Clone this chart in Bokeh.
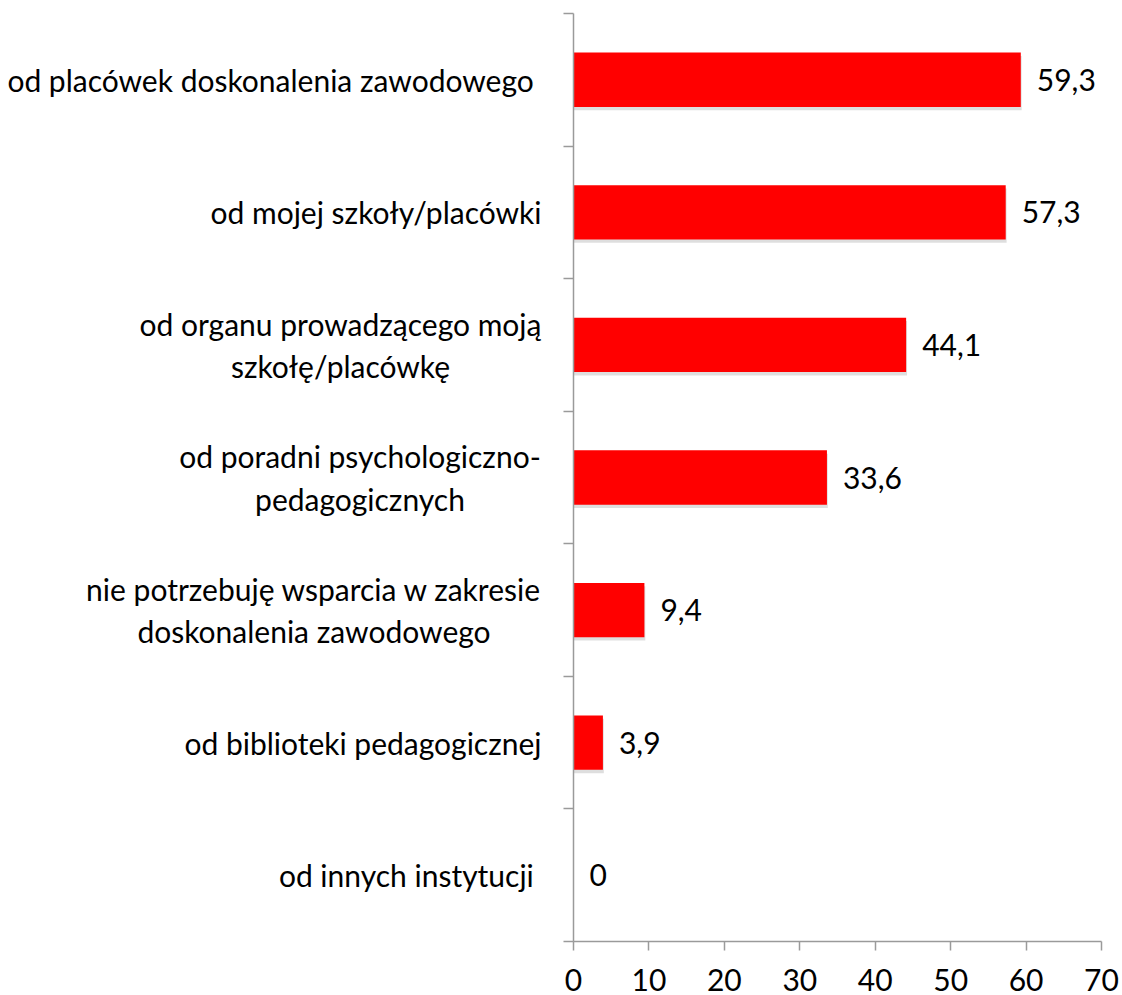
from bokeh.plotting import figure
from bokeh.models import FixedTicker, Range1d, ColumnDataSource, LinearAxis
from bokeh.core.properties import value
from bokeh.layouts import row
from bokeh.embed import file_html
from bokeh.resources import INLINE

categories = [
    "od placówek doskonalenia zawodowego\u00a0",
    "od mojej szkoły/placówki",
    "od organu prowadzącego moją\nszkołę/placówkę",
    "od poradni psychologiczno-\npedagogicznych",
    "nie potrzebuję wsparcia w zakresie\ndoskonalenia zawodowego",
    "od biblioteki pedagogicznej",
    "od innych instytucji\u00a0",
]
values = [59.3, 57.3, 44.1, 33.6, 9.4, 3.9, 0]
x_ticks = [0, 10, 20, 30, 40, 50, 60, 70]

FONT = "Lato"
FS = "30px"
AXIS_C = "#9a9a9a"
TOP, BOTTOM = 13, 54
H = 995
LEFT_W = 548      # width of the label panel
LABEL_RIGHT = 541 # right edge of the label block (page px)

n = len(categories)
ypos = [n - i - 0.5 for i in range(n)]
labels = [("0" if v == 0 else f"{v:.1f}".replace(".", ",")) for v in values]
yr = Range1d(0, n)

# ---- label panel -------------------------------------------------------
est_w = {"od organu prowadzącego moją": 402,
         "od poradni psychologiczno-": 363,
         "nie potrzebuję wsparcia w zakresie": 455}
lx, align = [], []
for c in categories:
    if "\n" in c:
        lx.append(LABEL_RIGHT - est_w.get(c.split("\n")[0], 400) / 2)
        align.append("center")
    else:
        lx.append(LABEL_RIGHT)
        align.append("right")
lsrc = ColumnDataSource(dict(x=lx, y=ypos, t=categories, a=align))

pl = figure(width=LEFT_W, height=H, output_backend="svg", toolbar_location=None,
            x_range=Range1d(0, LEFT_W), y_range=yr,
            x_axis_type=None, y_axis_type=None,
            min_border_left=0, min_border_right=0,
            min_border_top=TOP, min_border_bottom=BOTTOM)
pl.outline_line_color = None
pl.grid.visible = False
pl.text(x="x", y="y", text="t", source=lsrc, text_align="a",
        text_baseline="middle", text_font=value(FONT), text_font_size=FS,
        text_color="black", text_line_height=1.17)

# ---- chart -------------------------------------------------------------
src = ColumnDataSource(dict(y=ypos, v=values, lab=labels,
                            ys=[y - 0.025 for y in ypos],
                            vs=[v + 0.12 if v > 0 else 0 for v in values]))

p = figure(width=1120 - LEFT_W, height=H, output_backend="svg", toolbar_location=None,
           x_range=Range1d(0, 70), y_range=yr,
           x_axis_location="below", y_axis_type=None,
           min_border_left=573 - LEFT_W, min_border_top=TOP, min_border_right=19,
           min_border_bottom=BOTTOM)
p.outline_line_color = None
p.grid.visible = False

yaxis = LinearAxis(ticker=FixedTicker(ticks=[], minor_ticks=list(range(n + 1))))
yaxis.major_tick_line_color = None
yaxis.major_tick_out = 0
yaxis.major_tick_in = 0
yaxis.minor_tick_out = 10
yaxis.minor_tick_in = 0
yaxis.minor_tick_line_color = AXIS_C
yaxis.minor_tick_line_width = 1.5
yaxis.axis_line_color = AXIS_C
yaxis.axis_line_width = 1.5
yaxis.major_label_standoff = 0
yaxis.major_label_text_font_size = "0px"
p.add_layout(yaxis, "left")

xa = p.xaxis[0]
xa.ticker = FixedTicker(ticks=x_ticks)
xa.minor_tick_line_color = None
xa.major_tick_out = 9
xa.major_tick_in = 0
xa.major_tick_line_color = AXIS_C
xa.major_tick_line_width = 1.5
xa.axis_line_color = AXIS_C
xa.axis_line_width = 1.5
xa.major_label_standoff = 18
xa.major_label_text_font = FONT
xa.major_label_text_font_size = FS
xa.major_label_text_color = "black"

p.hbar(y="ys", left=0, right="vs", height=0.41, source=src,
       fill_color="black", fill_alpha=0.13, line_color=None)
p.hbar(y="y", left=0, right="v", height=0.41, source=src,
       fill_color="#ff0000", line_color=None)
p.text(x="v", y="y", text="lab", source=src, x_offset=16,
       text_font=value(FONT), text_align="left", text_baseline="middle",
       text_font_size=FS, text_color="black")

layout = row(pl, p, spacing=0)
open("out.html", "w").write(file_html(layout, INLINE))
